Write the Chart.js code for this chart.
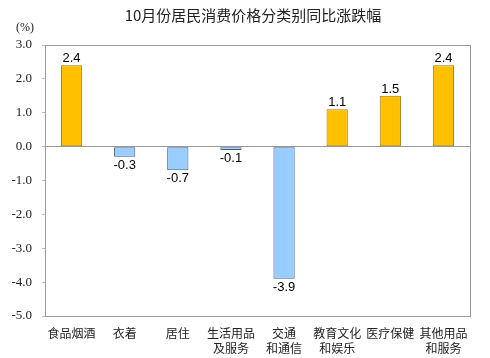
<!DOCTYPE html>
<html><head><meta charset="utf-8">
<script src="https://cdn.jsdelivr.net/npm/chart.js@4/dist/chart.umd.min.js"></script>
<style>html,body{margin:0;padding:0;background:#fff}#wrap{width:490px;height:358px}</style>
</head><body><div id="wrap"><canvas id="c" width="490" height="358"></canvas></div>
<script>
const titleText = '10月份居民消费价格分类别同比涨跌幅';
const unitText = '(%)';
const categories = [['食品烟酒'], ['衣着'], ['居住'], ['生活用品', '及服务'], ['交通', '和通信'], ['教育文化', '和娱乐'], ['医疗保健'], ['其他用品', '和服务']];
const values = [2.4, -0.3, -0.7, -0.1, -3.9, 1.1, 1.5, 2.4];
const yTicks = [3, 2, 1, 0, -1, -2, -3, -4, -5];

const cjk = '"Noto Sans CJK SC", "Liberation Sans", sans-serif';
const serif = '"Liberation Serif", "Times New Roman", serif';

const framePlugin = {
  id: 'frame',
  beforeDatasetsDraw(chart) {
    const {ctx, chartArea: a} = chart;
    ctx.save();
    ctx.strokeStyle = '#9a9a9a';
    ctx.lineWidth = 1;
    ctx.strokeRect(Math.round(a.left) + 0.5, Math.round(a.top) + 0.5, Math.round(a.right - a.left), Math.round(a.bottom - a.top));
    ctx.restore();
  },
  afterDraw(chart) {
    const ctx = chart.ctx;
    ctx.save();
    ctx.fillStyle = '#222';
    ctx.font = '15px ' + cjk;
    ctx.textAlign = 'center';
    ctx.textBaseline = 'middle';
    ctx.fillText(titleText, 253, 15);
    ctx.font = '12px ' + serif;
    ctx.fillText(unitText, 25, 28);
    // data labels
    const meta = chart.getDatasetMeta(0);
    ctx.font = '13px "Liberation Sans", Arial, sans-serif';
    ctx.fillStyle = '#000';
    meta.data.forEach((bar, i) => {
      const v = values[i];
      if (v >= 0) {
        ctx.textBaseline = 'bottom';
        ctx.fillText(v.toFixed(1), bar.x, bar.y);
      } else {
        ctx.textBaseline = 'top';
        ctx.fillText(v.toFixed(1), bar.x, bar.y + 2);
      }
    });
    ctx.restore();
  }
};

new Chart(document.getElementById('c'), {
  type: 'bar',
  data: {
    labels: categories,
    datasets: [{
      data: values,
      backgroundColor: values.map(v => v >= 0 ? '#FFC000' : '#99CCFF'),
      borderColor: values.map(v => v >= 0 ? '#9C7A10' : '#405C88'),
      borderWidth: 1,
      borderSkipped: false,
      barPercentage: 0.8,
      categoryPercentage: 0.5
    }]
  },
  options: {
    responsive: false,
    animation: false,
    devicePixelRatio: 1,
    layout: {padding: {top: 45, right: 20, left: 0, bottom: 0}},
    plugins: {legend: {display: false}, title: {display: false}, tooltip: {enabled: false}},
    scales: {
      x: {
        grid: {display: false},
        border: {display: true, color: '#9a9a9a'},
        ticks: {font: {family: cjk, size: 12, lineHeight: 1.25}, color: '#222', padding: 2, maxRotation: 0, autoSkip: false},
        afterFit(s) { s.height = 42; }
      },
      y: {
        min: -5, max: 3,
        afterBuildTicks(s) { s.ticks = yTicks.map(v => ({value: v})); },
        grid: {
          color: c => (c.tick && c.tick.value === 0) ? '#9a9a9a' : 'rgba(0,0,0,0)',
          tickColor: '#bbbbbb', tickLength: 3, drawOnChartArea: true
        },
        border: {display: true, color: '#9a9a9a'},
        ticks: {
          font: {family: serif, size: 13}, color: '#222', padding: 10,
          callback: v => Number(v).toFixed(1)
        },
        afterFit(s) { s.width = 45; }
      }
    }
  },
  plugins: [framePlugin]
});
</script>
</body></html>
